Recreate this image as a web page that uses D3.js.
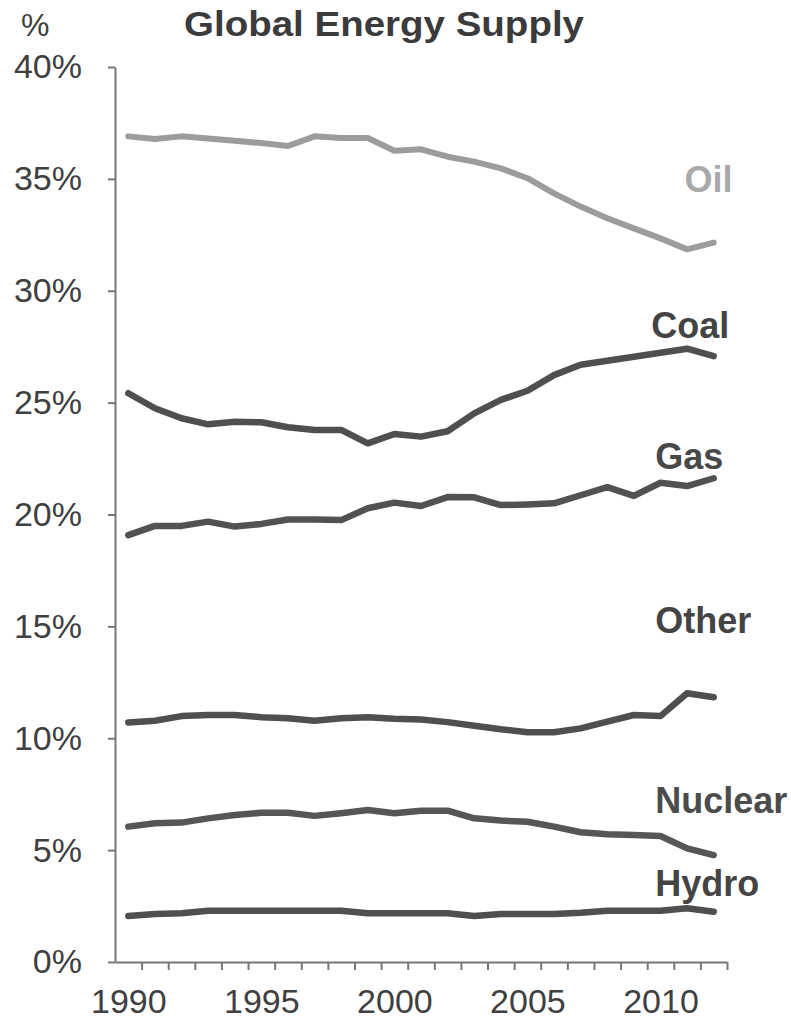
<!DOCTYPE html>
<html>
<head>
<meta charset="utf-8">
<title>Global Energy Supply</title>
<script src="https://cdn.jsdelivr.net/npm/d3@7"></script>
<style>
    body {
        margin: 0;
        background-color: #fff;
        font-family: "Liberation Sans", Arial, sans-serif;
    }

    .axis path,
    .axis line {
        stroke: #777;
        stroke-width: 2px;
    }

    .axis text {
        font-family: "Liberation Sans", Arial, sans-serif;
        font-size: 34px;
        fill: #404040;
    }

    .serie {
        fill: none;
        stroke-linejoin: round;
        stroke-linecap: round;
    }

    .rotulo {
        font-weight: bold;
        font-size: 36px;
    }
</style>
</head>
<body>
<svg width="791" height="1024"></svg>
<script>
    // dados (% do suprimento global de energia)
    var anos = d3.range(1990, 2013);
    var anosRotulo = [1990, 1995, 2000, 2005, 2010];
    var ticksY = [0, 5, 10, 15, 20, 25, 30, 35, 40];

    var oil = [36.9, 36.78, 36.9, 36.8, 36.7, 36.6, 36.47, 36.9, 36.83, 36.83, 36.26, 36.32,
        35.99, 35.77, 35.47, 35.03, 34.35, 33.76, 33.24, 32.79, 32.34, 31.85, 32.15];
    var coal = [25.42, 24.75, 24.3, 24.03, 24.15, 24.12, 23.9, 23.78, 23.78, 23.18, 23.6, 23.48,
        23.72, 24.52, 25.12, 25.53, 26.23, 26.69, 26.87, 27.05, 27.23, 27.41, 27.08];
    var gas = [19.08, 19.49, 19.49, 19.68, 19.46, 19.58, 19.78, 19.78, 19.75, 20.28, 20.53, 20.38,
        20.78, 20.77, 20.42, 20.45, 20.5, 20.86, 21.22, 20.83, 21.42, 21.27, 21.62];
    var other = [10.7, 10.78, 10.99, 11.04, 11.04, 10.94, 10.89, 10.78, 10.89, 10.94, 10.87, 10.84,
        10.72, 10.56, 10.4, 10.27, 10.27, 10.44, 10.74, 11.04, 10.99, 12.01, 11.83];
    var nuclear = [6.05, 6.2, 6.23, 6.42, 6.57, 6.67, 6.67, 6.53, 6.65, 6.79, 6.65, 6.76,
        6.76, 6.42, 6.32, 6.27, 6.05, 5.8, 5.71, 5.68, 5.63, 5.08, 4.78];
    var hydro = [2.06, 2.15, 2.18, 2.29, 2.29, 2.29, 2.29, 2.29, 2.29, 2.18, 2.18, 2.18,
        2.18, 2.06, 2.15, 2.15, 2.15, 2.2, 2.29, 2.29, 2.29, 2.4, 2.25];

    var nomes = ["Oil", "Coal", "Gas", "Other", "Nuclear", "Hydro"];
    var valores = [oil, coal, gas, other, nuclear, hydro];
    var cores = ["#9c9c9c", "#4f4f4f", "#525252", "#4f4f4f", "#565656", "#4f4f4f"];
    var coresRotulo = ["#a9a9a9", "#444", "#484848", "#444", "#4c4c4c", "#444"];
    // posicao dos rotulos (ano de referencia, valor)
    var rotuloX = [2010.9, 2009.65, 2009.8, 2009.8, 2009.8, 2009.8];
    var rotuloY = [34.41, 27.89, 22.03, 14.7, 6.66, 2.95];

    var svg = d3.select("svg");

    var x = d3.scaleLinear()
        .domain([1989.5, 2012.5])
        .range([115, 727]);

    var y = d3.scaleLinear()
        .domain([0, 40])
        .range([962, 67]);

    // titulo
    svg.append("text")
        .attr("x", 184)
        .attr("y", 36)
        .attr("textLength", 400)
        .attr("lengthAdjust", "spacingAndGlyphs")
        .style("font-weight", "bold")
        .style("font-size", "35px")
        .style("fill", "#3b3b3b")
        .text("Global Energy Supply");

    svg.append("text")
        .attr("x", 21)
        .attr("y", 36)
        .style("font-size", "32px")
        .style("fill", "#404040")
        .text("%");

    // eixo y
    svg.append("g")
        .attr("class", "axis")
        .attr("transform", "translate(115,0)")
        .call(d3.axisLeft(y)
            .tickValues(ticksY)
            .tickFormat(function (d) { return d + "%"; })
            .tickSize(7)
            .tickSizeOuter(0)
            .tickPadding(26));

    // eixo x: marcas entre os anos
    svg.append("g")
        .attr("class", "axis")
        .attr("transform", "translate(0,962)")
        .call(d3.axisBottom(x)
            .tickValues(anos.map(function (a) { return a + 0.5; }))
            .tickFormat("")
            .tickSize(8)
            .tickSizeOuter(0));

    svg.append("g")
        .attr("class", "axis")
        .attr("transform", "translate(0,962)")
        .call(d3.axisBottom(x)
            .tickValues(anosRotulo)
            .tickFormat(d3.format("d"))
            .tickSize(0)
            .tickPadding(27))
        .call(function (g) { g.select(".domain").remove(); });

    var linha = d3.line()
        .x(function (d, i) { return x(anos[i]); })
        .y(function (d) { return y(d); });

    svg.selectAll(".serie")
        .data(valores)
        .enter().append("path")
        .attr("class", "serie")
        .attr("d", linha)
        .style("stroke", function (d, i) { return cores[i]; })
        .style("stroke-width", function (d, i) { return i == 0 ? 6 : 6.5; });

    svg.selectAll(".rotulo")
        .data(nomes)
        .enter().append("text")
        .attr("class", "rotulo")
        .attr("x", function (d, i) { return x(rotuloX[i]); })
        .attr("y", function (d, i) { return y(rotuloY[i]); })
        .style("fill", function (d, i) { return coresRotulo[i]; })
        .text(function (d) { return d; });
</script>
</body>
</html>
